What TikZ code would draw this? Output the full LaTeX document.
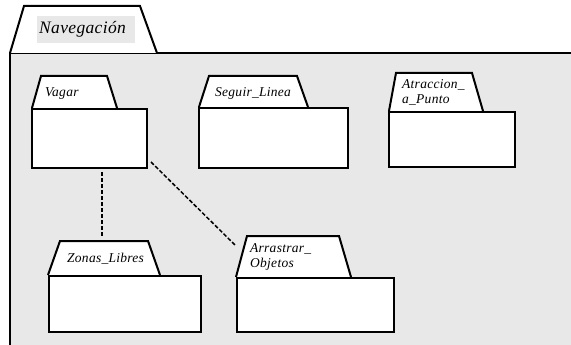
\documentclass[tikz,border=0pt]{standalone}
\usepackage{fontspec}
\setmainfont{Liberation Serif}
\usetikzlibrary{calc}
\definecolor{pkgbg}{RGB}{232,232,232}
\begin{document}
\begin{tikzpicture}[x=1pt,y=-1pt,
  outline/.style={line width=2pt, line join=miter},
  tabshape/.style={outline, fill=white},
  bodybox/.style={outline, draw=black, fill=white, rectangle, anchor=north west, inner sep=0pt},
  lbl/.style={rectangle, fill=white, anchor=north west, inner xsep=2pt, inner ysep=0pt,
    align=left, font=\itshape\fontsize{13.5}{15}\selectfont\addfontfeature{LetterSpace=2}},
  dep/.style={line width=1.5pt, dash pattern=on 4pt off 2pt}]
\useasboundingbox (0,0) rectangle (571,345);
\fill[white] (0,0) rectangle (571,345);

% enclosing package Navegacion
\fill[pkgbg] (10,53) rectangle (571,345);
\draw[outline] (10,345) -- (10,53) -- (571,53);
\draw[tabshape] (10,53) -- (24,6) -- (140,6) -- (157,53);
\node[lbl, fill=pkgbg, font=\itshape\fontsize{17.5}{19}\selectfont\addfontfeature{LetterSpace=2},
  text width=94pt, minimum height=27pt] (navlbl) at (37,16) {Navegación};

% Vagar
\draw[tabshape] (32,108) -- (41,76) -- (107,76) -- (117,108);
\node[bodybox, minimum width=115pt, minimum height=59pt] (vagar) at (31,108) {};
\node[lbl, text width=45pt, minimum height=22pt] (vagarlbl) at (43,82) {Vagar};

% Seguir_Linea
\draw[tabshape] (199,107) -- (209,76) -- (297,76) -- (308,107);
\node[bodybox, minimum width=149pt, minimum height=60pt] (seguir) at (198,107) {};
\node[lbl, text width=76pt, minimum height=20pt] (seguirlbl) at (213,83) {Seguir\_Linea};

% Atraccion_a_Punto
\draw[tabshape] (389,111) -- (396,73) -- (472,73) -- (483,111);
\node[bodybox, minimum width=126pt, minimum height=55pt] (atraccion) at (388,111) {};
\node[lbl, text width=52pt, minimum height=33pt] (atraccionlbl) at (400,76) {Atraccion\_\\a\_Punto};

% Zonas_Libres
\draw[tabshape] (48,275) -- (60,241) -- (148,241) -- (160,275);
\node[bodybox, minimum width=152pt, minimum height=56pt] (zonas) at (48,275) {};
\node[lbl, text width=78pt, minimum height=23pt] (zonaslbl) at (65,247) {Zonas\_Libres};
\coordinate (zonastop) at (102,236);

% Arrastrar_Objetos
\draw[tabshape] (236,277) -- (247,236) -- (339,236) -- (351,277);
\node[bodybox, minimum width=157pt, minimum height=54pt] (arrastrar) at (236,277) {};
\node[lbl, text width=60pt, minimum height=38pt] (arrastrarlbl) at (248,238) {Arrastrar\_\\Objetos};
\coordinate (arrastrarend) at (235,245);

% dependencies
\draw[dep] (vagar.south -| zonastop) ++(0,3) -- (zonastop);
\draw[dep] ($(vagar.south east)+(3,-7)$) -- (arrastrarend);
\end{tikzpicture}
\end{document}
